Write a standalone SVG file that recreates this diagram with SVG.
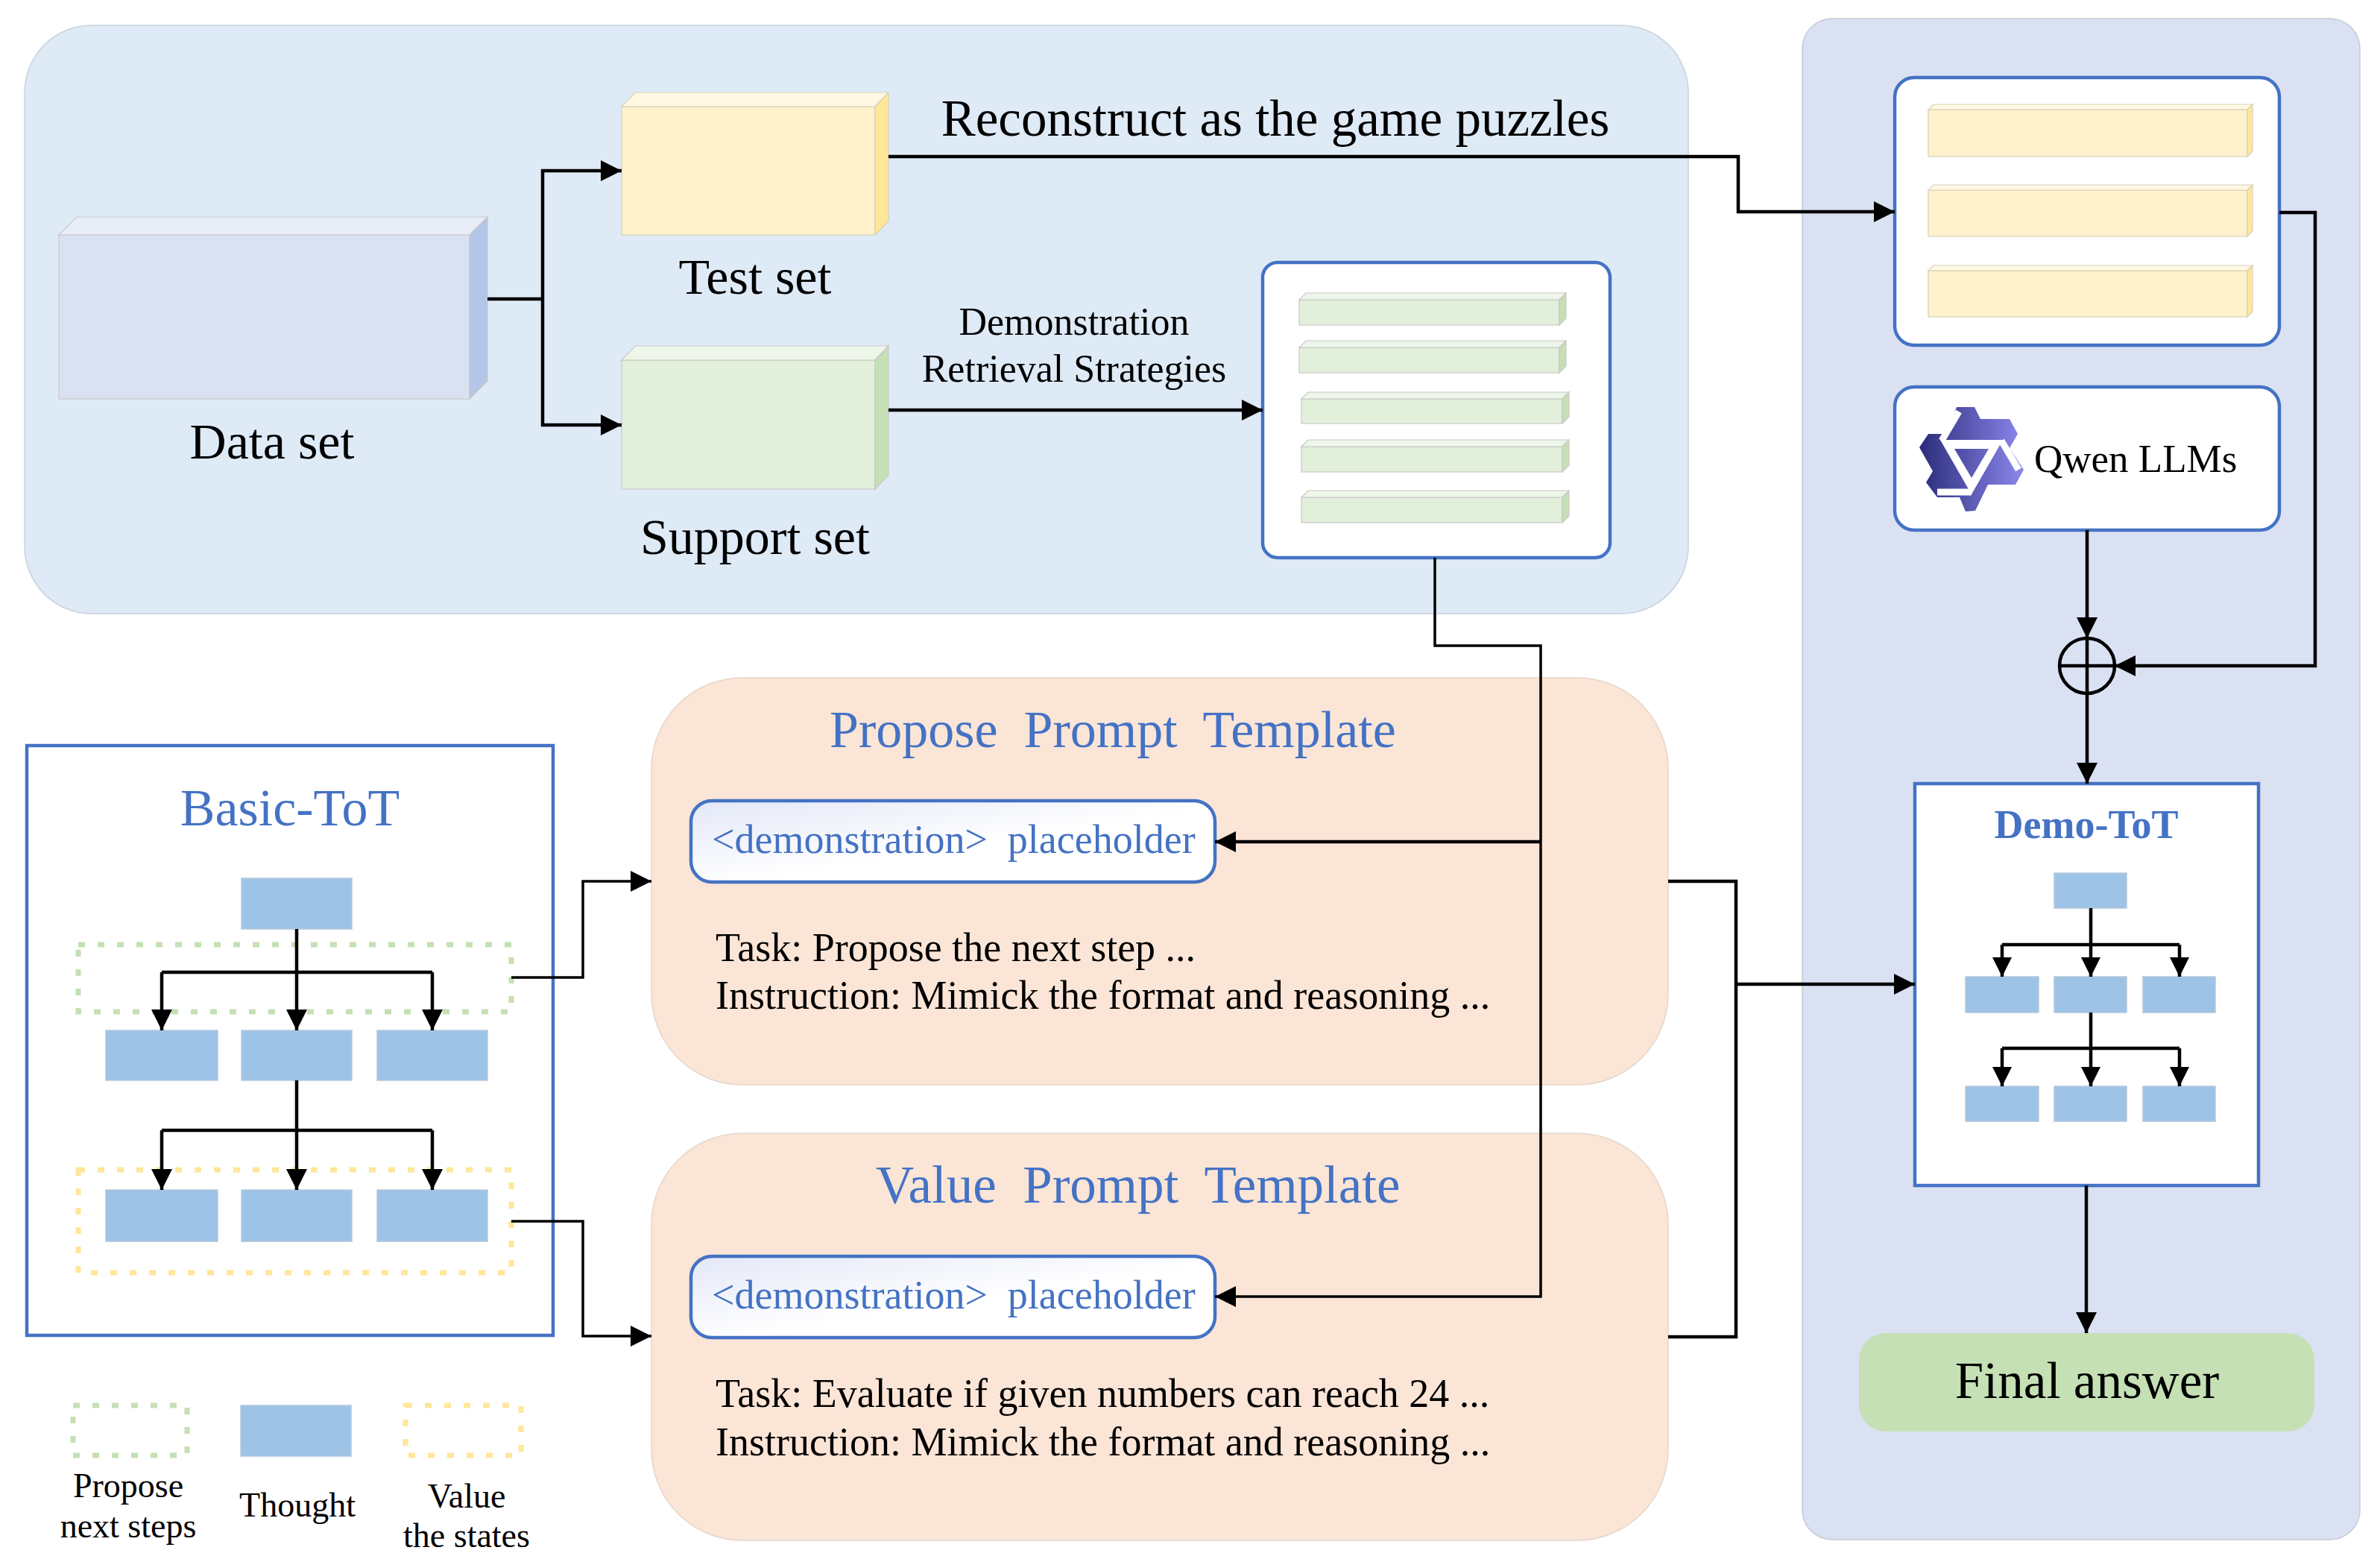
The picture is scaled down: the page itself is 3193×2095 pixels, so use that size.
<svg xmlns="http://www.w3.org/2000/svg" width="3193" height="2095" viewBox="0 0 3193 2095">
<defs>
<style>
text{font-family:"Liberation Serif","Times New Roman",serif;fill:#000}
.l68{font-size:68px}
.l70{font-size:70px}
.l52{font-size:52px}
.l54{font-size:54px}
.l46{font-size:46px}
.blue{fill:#4472C4}
.mid{text-anchor:middle}
.ln{fill:none;stroke:#000;stroke-width:4.5}
.lnT{fill:none;stroke:#000;stroke-width:3.5}
.th{fill:#9DC3E6;stroke:#B4C7DC;stroke-width:1.5}
.bx{fill:#fff;stroke:#4472C4;stroke-width:4.5}
.gdot{fill:none;stroke:#C5E0B4;stroke-width:7;stroke-dasharray:9 17}
.ydot{fill:none;stroke:#FFE699;stroke-width:7;stroke-dasharray:9 17}
.gf{fill:#E2EFDA;stroke:#C8C8C8;stroke-width:1.2}
.gt{fill:#EEF5E9;stroke:#C8C8C8;stroke-width:1.2}
.gs{fill:#C5E0B4;stroke:#C8C8C8;stroke-width:1.2}
.yf{fill:#FFF2CC;stroke:#D8D0B8;stroke-width:1.2}
.yt{fill:#FFF8E3;stroke:#D8D0B8;stroke-width:1.2}
.ys{fill:#FFE699;stroke:#D8D0B8;stroke-width:1.2}
.panel{fill:#FBE5D6;stroke:#E6D6CA;stroke-width:1.5}
</style>
<marker id="arr" viewBox="0 0 28 28" markerWidth="28" markerHeight="28" refX="28" refY="14" orient="auto" markerUnits="userSpaceOnUse"><path d="M0,0 L28,14 L0,28 z" fill="#000"/></marker>
<marker id="arrS" viewBox="0 0 26 26" markerWidth="26" markerHeight="26" refX="26" refY="13" orient="auto" markerUnits="userSpaceOnUse"><path d="M0,0 L26,13 L0,26 z" fill="#000"/></marker>
<linearGradient id="ph" x1="0" y1="0" x2="1" y2="1"><stop offset="0" stop-color="#E3E8F7"/><stop offset="0.55" stop-color="#FFFFFF"/></linearGradient>
<linearGradient id="qw" gradientUnits="userSpaceOnUse" x1="-70" y1="0" x2="70" y2="0"><stop offset="0" stop-color="#2A2C7A"/><stop offset="1" stop-color="#8C88EE"/></linearGradient>
</defs>
<rect width="3193" height="2095" fill="#fff"/>

<g id="data-panel">
<rect x="33" y="34" width="2232" height="789" rx="90" fill="#DEEAF6" stroke="#C9D2DC" stroke-width="1.5"/>
</g>
<g id="model-panel">
<rect x="2418" y="25" width="748" height="2040" rx="40" fill="#DAE1F3" stroke="#C3CAD6" stroke-width="1.5"/>
</g>

<g id="dataset">
<rect x="79" y="315" width="551" height="220" fill="#DAE1F2" stroke="#C8C8C8" stroke-width="1.2"/>
<polygon points="79,315 103,291 654,291 630,315" fill="#E9EDF8" stroke="#C8C8C8" stroke-width="1.2"/>
<polygon points="630,315 654,291 654,511 630,535" fill="#B4C6E7" stroke="#C8C8C8" stroke-width="1.2"/>
<text x="365" y="615" class="l68 mid">Data set</text>
</g>

<g id="testset">
<rect x="834" y="143" width="340" height="172" class="yf"/>
<polygon points="834,143 852,124 1192,124 1174,143" class="yt"/>
<polygon points="1174,143 1192,124 1192,297 1174,315" class="ys"/>
<text x="1013" y="394" class="l68 mid">Test set</text>
</g>

<g id="supportset">
<rect x="834" y="483" width="340" height="173" class="gf"/>
<polygon points="834,483 852,464 1192,464 1174,483" class="gt"/>
<polygon points="1174,483 1192,464 1192,637 1174,656" class="gs"/>
<text x="1013" y="743" class="l68 mid">Support set</text>
</g>

<g id="demo-store">
<rect x="1694" y="352" width="466" height="396" rx="20" class="bx"/>
<rect x="1743" y="402" width="349" height="34" class="gf"/><polygon points="1743,402 1752,393 2101,393 2092,402" class="gt"/><polygon points="2092,402 2101,393 2101,427 2092,436" class="gs"/>
<rect x="1743" y="466" width="349" height="34" class="gf"/><polygon points="1743,466 1752,457 2101,457 2092,466" class="gt"/><polygon points="2092,466 2101,457 2101,491 2092,500" class="gs"/>
<rect x="1746" y="535" width="350" height="33" class="gf"/><polygon points="1746,535 1755,526 2105,526 2096,535" class="gt"/><polygon points="2096,535 2105,526 2105,559 2096,568" class="gs"/>
<rect x="1746" y="599" width="350" height="34" class="gf"/><polygon points="1746,599 1755,590 2105,590 2096,599" class="gt"/><polygon points="2096,599 2105,590 2105,624 2096,633" class="gs"/>
<rect x="1746" y="667" width="350" height="34" class="gf"/><polygon points="1746,667 1755,658 2105,658 2096,667" class="gt"/><polygon points="2096,667 2105,658 2105,692 2096,701" class="gs"/>
</g>

<g id="labels">
<text x="1711" y="182" class="mid" font-size="69">Reconstruct as the game puzzles</text>
<text x="1441" y="449" class="l52 mid">Demonstration</text>
<text x="1441" y="512" class="l52 mid">Retrieval Strategies</text>
</g>

<g id="puzzle-store">
<rect x="2542" y="104" width="516" height="359" rx="26" class="bx"/>
<rect x="2587" y="147" width="428" height="63" class="yf"/><polygon points="2587,147 2594,140 3022,140 3015,147" class="yt"/><polygon points="3015,147 3022,140 3022,203 3015,210" class="ys"/>
<rect x="2587" y="255" width="428" height="62" class="yf"/><polygon points="2587,255 2594,248 3022,248 3015,255" class="yt"/><polygon points="3015,255 3022,248 3022,310 3015,317" class="ys"/>
<rect x="2587" y="363" width="428" height="62" class="yf"/><polygon points="2587,363 2594,356 3022,356 3015,363" class="yt"/><polygon points="3015,363 3022,356 3022,418 3015,425" class="ys"/>
</g>

<g id="qwen">
<rect x="2542" y="519" width="516" height="192" rx="26" class="bx"/>
<g transform="translate(2645,616)">
<polygon points="-20,-70 4,-70 12,-54 51,-54 62,-34 51,-15 70,14 59,34 22,34 5,69 -8,70 -16,51 -46,51 -61,31 -52,16 -70,-16 -58,-34 -34,-34" fill="url(#qw)"/>
<polygon points="-42,-26 42,-26 0,47" fill="#fff"/>
<polygon points="-23,-14 23,-14 0,25" fill="url(#qw)"/>
<g stroke="#fff" stroke-width="9" fill="none">
<path d="M-40,-25 L-17,-64"/>
<path d="M40,-25 L63,14"/>
<path d="M0,44 L-46,44"/>
</g>
</g>
<text x="2729" y="633" font-size="53">Qwen LLMs</text>
</g>

<g id="combine">
<circle cx="2800" cy="893" r="37" fill="none" stroke="#000" stroke-width="4.5"/>
<path d="M2763,893 H2837" class="ln"/>
</g>

<g id="basic-tot">
<rect x="36" y="1000" width="706" height="791" fill="#fff" stroke="#4472C4" stroke-width="4.5"/>
<text x="389" y="1107" class="l70 mid blue">Basic-ToT</text>
<rect x="105" y="1267" width="581" height="90" class="gdot"/>
<rect x="105" y="1569" width="581" height="138" class="ydot"/>
<rect x="324" y="1178" width="148" height="68" class="th"/>
<rect x="142" y="1382" width="150" height="67" class="th"/>
<rect x="324" y="1382" width="148" height="67" class="th"/>
<rect x="506" y="1382" width="148" height="67" class="th"/>
<rect x="142" y="1596" width="150" height="69" class="th"/>
<rect x="324" y="1596" width="148" height="69" class="th"/>
<rect x="506" y="1596" width="148" height="69" class="th"/>
<path d="M398,1246 V1382" class="ln" marker-end="url(#arr)"/>
<path d="M217,1304 H580" class="ln"/>
<path d="M217,1304 V1382" class="ln" marker-end="url(#arr)"/>
<path d="M580,1304 V1382" class="ln" marker-end="url(#arr)"/>
<path d="M398,1449 V1596" class="ln" marker-end="url(#arr)"/>
<path d="M217,1516 H580" class="ln"/>
<path d="M217,1516 V1596" class="ln" marker-end="url(#arr)"/>
<path d="M580,1516 V1596" class="ln" marker-end="url(#arr)"/>
</g>

<g id="legend">
<rect x="98" y="1885" width="153" height="67" class="gdot"/>
<rect x="323" y="1885" width="148" height="68" class="th"/>
<rect x="544" y="1885" width="155" height="67" class="ydot"/>
<text x="172" y="2008" class="l46 mid">Propose</text>
<text x="172" y="2062" class="l46 mid">next steps</text>
<text x="399" y="2034" class="l46 mid">Thought</text>
<text x="626" y="2022" class="l46 mid">Value</text>
<text x="626" y="2075" class="l46 mid">the states</text>
</g>

<g id="propose-template">
<rect x="874" y="909" width="1364" height="546" rx="122" class="panel"/>
<text x="1113" y="1002" class="l70 blue" xml:space="preserve">Propose  Prompt  Template</text>
<rect x="927" y="1074" width="703" height="109" rx="28" fill="url(#ph)" stroke="#4472C4" stroke-width="4.5"/>
<text x="955" y="1144" class="l54 blue" xml:space="preserve">&lt;demonstration&gt;  placeholder</text>
<text x="960" y="1289" class="l54">Task: Propose the next step ...</text>
<text x="960" y="1353" class="l54">Instruction: Mimick the format and reasoning ...</text>
</g>

<g id="value-template">
<rect x="874" y="1520" width="1364" height="546" rx="122" class="panel"/>
<text x="1175" y="1613" class="blue" font-size="71" xml:space="preserve">Value  Prompt  Template</text>
<rect x="927" y="1685" width="703" height="109" rx="28" fill="url(#ph)" stroke="#4472C4" stroke-width="4.5"/>
<text x="955" y="1755" class="l54 blue" xml:space="preserve">&lt;demonstration&gt;  placeholder</text>
<text x="960" y="1887" class="l54">Task: Evaluate if given numbers can reach 24 ...</text>
<text x="960" y="1952" class="l54">Instruction: Mimick the format and reasoning ...</text>
</g>

<g id="demo-tot">
<rect x="2569" y="1051" width="461" height="539" fill="#fff" stroke="#4472C4" stroke-width="4.5"/>
<text x="2799" y="1124" class="l54 mid blue" font-weight="bold">Demo-ToT</text>
<rect x="2756" y="1171" width="97" height="47" class="th"/>
<rect x="2637" y="1310" width="98" height="48" class="th"/>
<rect x="2756" y="1310" width="97" height="48" class="th"/>
<rect x="2875" y="1310" width="97" height="48" class="th"/>
<rect x="2637" y="1457" width="98" height="47" class="th"/>
<rect x="2756" y="1457" width="97" height="47" class="th"/>
<rect x="2875" y="1457" width="97" height="47" class="th"/>
<path d="M2805,1218 V1310" class="ln" marker-end="url(#arrS)"/>
<path d="M2686,1267 H2924" class="ln"/>
<path d="M2686,1267 V1310" class="ln" marker-end="url(#arrS)"/>
<path d="M2924,1267 V1310" class="ln" marker-end="url(#arrS)"/>
<path d="M2805,1358 V1457" class="ln" marker-end="url(#arrS)"/>
<path d="M2686,1406 H2924" class="ln"/>
<path d="M2686,1406 V1457" class="ln" marker-end="url(#arrS)"/>
<path d="M2924,1406 V1457" class="ln" marker-end="url(#arrS)"/>
</g>

<g id="final-answer">
<rect x="2494" y="1788" width="611" height="132" rx="36" fill="#C5E0B4"/>
<text x="2800" y="1875" class="mid" font-size="69">Final answer</text>
</g>

<g id="connectors">
<path d="M654,401 H728" class="ln"/>
<path d="M728,401 V229 H834" class="ln" marker-end="url(#arr)"/>
<path d="M728,401 V570 H834" class="ln" marker-end="url(#arr)"/>
<path d="M1192,210 H2332 V284 H2542" class="ln" marker-end="url(#arr)"/>
<path d="M1192,550 H1694" class="ln" marker-end="url(#arr)"/>
<path d="M1925,748 V866 H2067 V1739 H1630" class="lnT" marker-end="url(#arr)"/>
<path d="M2067,1129 H1630" class="ln" marker-end="url(#arr)"/>
<path d="M3058,285 H3106 V893 H2837" class="ln" marker-end="url(#arr)"/>
<path d="M2800,711 V856" class="ln" marker-end="url(#arr)"/>
<path d="M2800,856 V1051" class="ln" marker-end="url(#arr)"/>
<path d="M2799,1590 V1788" class="ln" marker-end="url(#arr)"/>
<path d="M2238,1182 H2329 V1793 H2238" class="ln"/>
<path d="M2329,1320 H2569" class="ln" marker-end="url(#arr)"/>
<path d="M686,1311 H782 V1182 H874" class="lnT" marker-end="url(#arr)"/>
<path d="M686,1638 H782 V1792 H874" class="lnT" marker-end="url(#arr)"/>
</g>
</svg>
